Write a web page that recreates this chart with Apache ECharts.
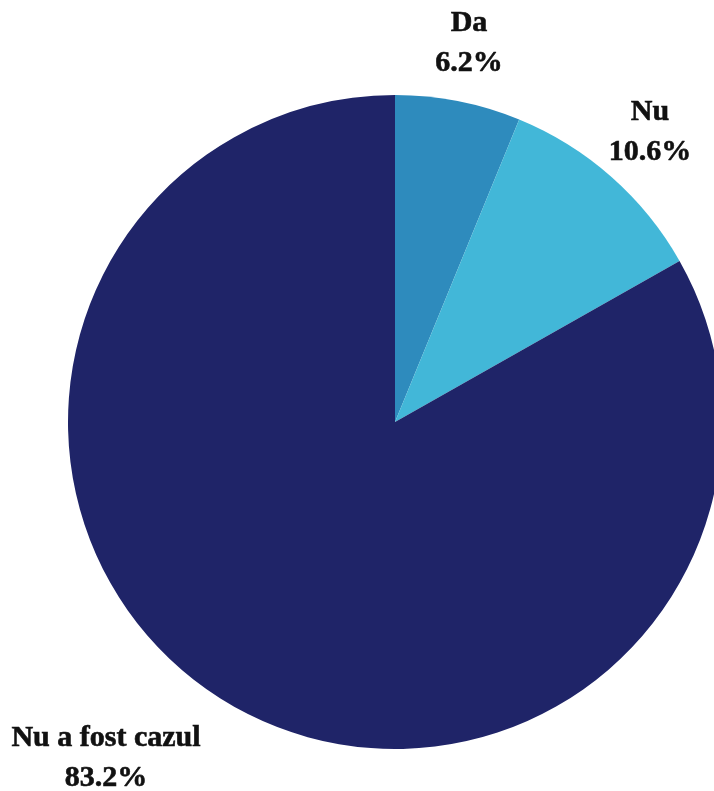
<!DOCTYPE html>
<html>
<head>
<meta charset="utf-8">
<script src="https://cdn.jsdelivr.net/npm/echarts@6/dist/echarts.min.js"></script>
<style>html,body{margin:0;padding:0;background:#fff;}#c{width:714px;height:791px;}</style>
</head>
<body>
<div id="c"></div>
<script>
const categories = ['Da', 'Nu', 'Nu a fost cazul'];
const values = [6.2, 10.6, 83.2];
const colors = ['#2e8bbd', '#42b7d8', '#1f2468'];
const labelAnchors = [[469, 43], [650, 132], [106, 758]];

const chart = echarts.init(document.getElementById('c'));
chart.setOption({
  animation: false,
  series: [{
    type: 'pie',
    center: [395, 422],
    radius: 327,
    startAngle: 90,
    clockwise: true,
    data: categories.map((n, i) => ({ name: n, value: values[i], itemStyle: { color: colors[i] } })),
    label: {
      show: true,
      formatter: p => p.name + '\n' + p.value.toFixed(1) + '%',
      fontFamily: 'Liberation Serif',
      fontWeight: 'bold',
      fontSize: 30,
      lineHeight: 40,
      color: '#111',
      align: 'center',
      overflow: 'none',
      width: 300,
      textBorderColor: '#111',
      textBorderWidth: 0.6
    },
    labelLine: { show: false },
    labelLayout: p => ({ x: labelAnchors[p.dataIndex][0], y: labelAnchors[p.dataIndex][1], align: 'center', verticalAlign: 'middle' }),
    itemStyle: { borderWidth: 0 }
  }]
});
</script>
</body>
</html>
